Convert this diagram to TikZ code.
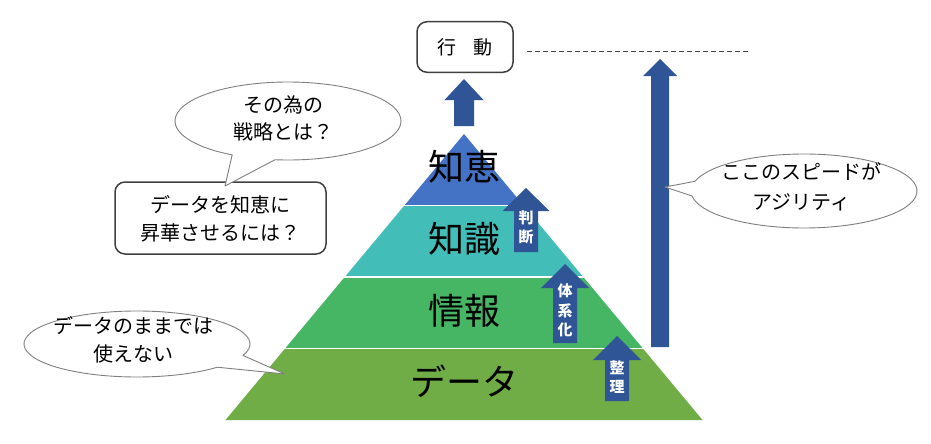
\documentclass[tikz,border=0pt]{standalone}
\usepackage{fontspec}
\setmainfont{Noto Sans CJK JP}
\usetikzlibrary{calc}
\definecolor{wisdomblue}{HTML}{4472C4}
\definecolor{knowteal}{HTML}{43BDB8}
\definecolor{infogreen}{HTML}{46B564}
\definecolor{datagreen}{HTML}{70AD47}
\definecolor{arrowblue}{HTML}{2F5597}
\definecolor{boxgray}{HTML}{404040}
\definecolor{ellgray}{HTML}{7F7F7F}
\newcommand\blkarrow[7]{% name, x, tip y, head base y, head half width, shaft half width, bottom y
  \fill[arrowblue] (#2,#3) coordinate (#1) -- (#2+#5,#4) -- (#2+#6,#4) -- (#2+#6,#7) -- (#2-#6,#7) -- (#2-#6,#4) -- (#2-#5,#4) -- cycle;}
\begin{document}
\begin{tikzpicture}[x=1pt,y=-1pt,
  biglabel/.style={font=\fontsize{36}{40}\selectfont, text=black, inner sep=0pt},
  calltext/.style={font=\fontsize{20}{27.5}\selectfont, align=center, inner sep=0pt},
  arrowtext/.style={font=\fontsize{15}{19.5}\selectfont\bfseries, text=white, align=center, inner sep=0pt},
  callout/.style={draw=ellgray, line width=0.9pt, fill=white, line join=round},
  roundbox/.style={draw=boxgray, line width=1.5pt, fill=white, rounded corners=10pt}]
\useasboundingbox (0,0) rectangle (931,444);

% pyramid
\fill[wisdomblue] (464,134) -- (523.6,205.5) -- (404.4,205.5) -- cycle;
\fill[knowteal] (404.4,205.5) -- (523.6,205.5) -- (583.25,277) -- (344.75,277) -- cycle;
\fill[infogreen] (344.75,277) -- (583.25,277) -- (642.9,348.5) -- (285.1,348.5) -- cycle;
\fill[datagreen] (285.1,348.5) -- (642.9,348.5) -- (702.5,420) -- (225.5,420) -- cycle;
\draw[white, line width=1.5pt] (403.5,205.5) -- (524.5,205.5)
  (343.5,277) -- (584.5,277) (284,348.5) -- (644,348.5);

\node[biglabel] (wisdom) at (464,167) {知恵};
\node[biglabel] (knowledge) at (464,238.5) {知識};
\node[biglabel] (information) at (464,311) {情報};
\node[biglabel] (data) at (464,381) {データ};

% block arrows
\blkarrow{judgetip}{526}{188}{211}{23.5}{12}{252}
\blkarrow{systip}{565}{264}{288}{24}{12}{343}
\blkarrow{ordertip}{617}{336}{360}{24}{12}{401}
\blkarrow{bigtip}{660}{59}{76}{17}{9}{347}
\blkarrow{toptip}{464}{79}{100}{19.5}{10}{126}

\node[arrowtext] (judge) at (526,227.5) {判\\断};
\node[arrowtext] (systematize) at (565,310.5) {体\\系\\化};
\node[arrowtext] (organize) at (617,377) {整\\理};

% action box
\node[roundbox, minimum width=96pt, minimum height=50.5pt, inner sep=0pt,
  font=\fontsize{19}{22}\selectfont] (action) at (465,47) {行\hspace{0.85em}動};
\coordinate (dashstart) at (527,52);
\coordinate (dashend) at (748,52);
\draw[boxgray, line width=1pt, dash pattern=on 5pt off 3pt] (dashstart) -- (dashend);

% question box
\node[roundbox, minimum width=211pt, minimum height=72pt, inner sep=0pt] (qbox) at (220.5,218) {};
\node[calltext] (qtext) at (220.5,219) {データを知恵に\\昇華させるには？};

% strategy callout
\coordinate (c1) at (288,121);
\coordinate (t1) at (225,186);
\draw[callout] ([shift={(263.4:113pt and 39pt)}]c1) arc[start angle=263.4, end angle=600.4, x radius=113pt, y radius=39pt] -- (t1) -- cycle;
\node[calltext] (strategy) at (283,118.5) {その為の\\戦略とは？};

% data callout
\coordinate (c2) at (137,344);
\coordinate (t2) at (285,374);
\draw[callout] ([shift={(-20.3:113pt and 33pt)}]c2) arc[start angle=-20.3, end angle=315.3, x radius=113pt, y radius=33pt] -- (t2) -- cycle;
\node[calltext] (unusable) at (133,340) {データのままでは\\使えない};

% agility callout
\coordinate (c3) at (804,191);
\coordinate (t3) at (665,187);
\draw[callout] ([shift={(187.8:113pt and 37pt)}]c3) arc[start angle=187.8, end angle=524.8, x radius=113pt, y radius=37pt] -- (t3) -- cycle;
\node[calltext, font=\fontsize{20}{30}\selectfont] (agility) at (801,187) {ここのスピードが\\アジリティ};
\end{tikzpicture}
\end{document}
